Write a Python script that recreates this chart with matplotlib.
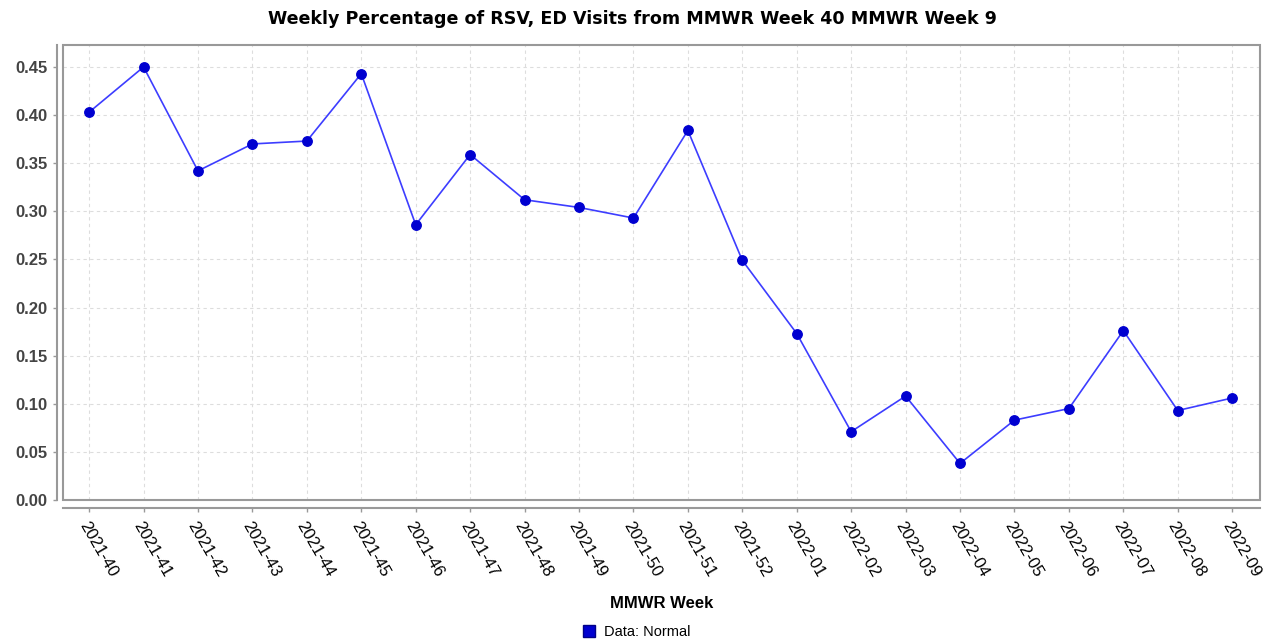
import matplotlib
matplotlib.use("Agg")
import matplotlib.pyplot as plt
from matplotlib.patches import Rectangle
from matplotlib.lines import Line2D

plt.rcParams['font.family'] = ['Liberation Sans', 'DejaVu Sans']

weeks = ["2021-40", "2021-41", "2021-42", "2021-43", "2021-44", "2021-45",
         "2021-46", "2021-47", "2021-48", "2021-49", "2021-50", "2021-51",
         "2021-52", "2022-01", "2022-02", "2022-03", "2022-04", "2022-05",
         "2022-06", "2022-07", "2022-08", "2022-09"]
pct = [0.403, 0.450, 0.342, 0.370, 0.373, 0.443, 0.286, 0.359, 0.312, 0.304,
       0.293, 0.384, 0.249, 0.173, 0.071, 0.108, 0.038, 0.083, 0.095, 0.176,
       0.093, 0.106]
yticks = [0.00, 0.05, 0.10, 0.15, 0.20, 0.25, 0.30, 0.35, 0.40, 0.45]

fig = plt.figure(figsize=(12.65, 6.43), dpi=100)
ax = fig.add_axes([0.0498, 0.2224, 0.9462, 0.7076])

# plot outline plus offset axis lines, jfreechart style
# (spine positions first, since set_position resets the ticks)
for side in ["top", "right"]:
    ax.spines[side].set_visible(False)
ax.spines["left"].set_position(("outward", 4.3))
ax.spines["bottom"].set_position(("outward", 5.5))
for side in ["left", "bottom"]:
    ax.spines[side].set_color("#999999")
    ax.spines[side].set_linewidth(1.5)
ax.add_patch(Rectangle((0, 0), 1, 1, transform=ax.transAxes, fill=False,
                       edgecolor="#999999", linewidth=1.5, clip_on=False,
                       zorder=5))

x = list(range(len(weeks)))
ax.plot(x, pct, color="#3d3dff", linewidth=1.2, zorder=3)
ax.plot(x, pct, linestyle="none", marker="o", markersize=6.8,
        color="#0000d0", zorder=4)

ax.set_xlim(-0.48, len(weeks) - 0.49)
ax.set_ylim(0, 0.4728)
ax.tick_params(axis="both", color="#999999", length=3, width=1)
ax.tick_params(axis="x", pad=5)
ax.tick_params(axis="y", pad=4)
ax.set_xticks(x)
ax.set_xticklabels(weeks, rotation=-60, ha="left", va="top",
                   rotation_mode="anchor", fontsize=12)
ax.set_yticks(yticks)
ax.set_yticklabels([f"{v:.2f}" for v in yticks], fontsize=12,
                   fontweight="bold", color="#444444")

ax.grid(True, color="#dddddd", linestyle=(0, (3, 3)), linewidth=0.8)
ax.set_axisbelow(True)

ax.set_xlabel("MMWR Week", fontsize=12, fontweight="bold", labelpad=12)
fig.suptitle("Weekly Percentage of RSV, ED Visits from MMWR Week 40 MMWR Week 9",
             fontsize=12.6, fontweight="bold", y=0.985,
             family=["DejaVu Sans"])

handle = Line2D([], [], linestyle="none", marker="s", markersize=8,
                color="#0000d0", markeredgecolor="#000088")
fig.legend([handle], ["Data: Normal"], loc="center", bbox_to_anchor=(0.5, 0.017),
           frameon=False, fontsize=10.5, handletextpad=0.0, borderpad=0)

fig.savefig("out.png", dpi=100)
